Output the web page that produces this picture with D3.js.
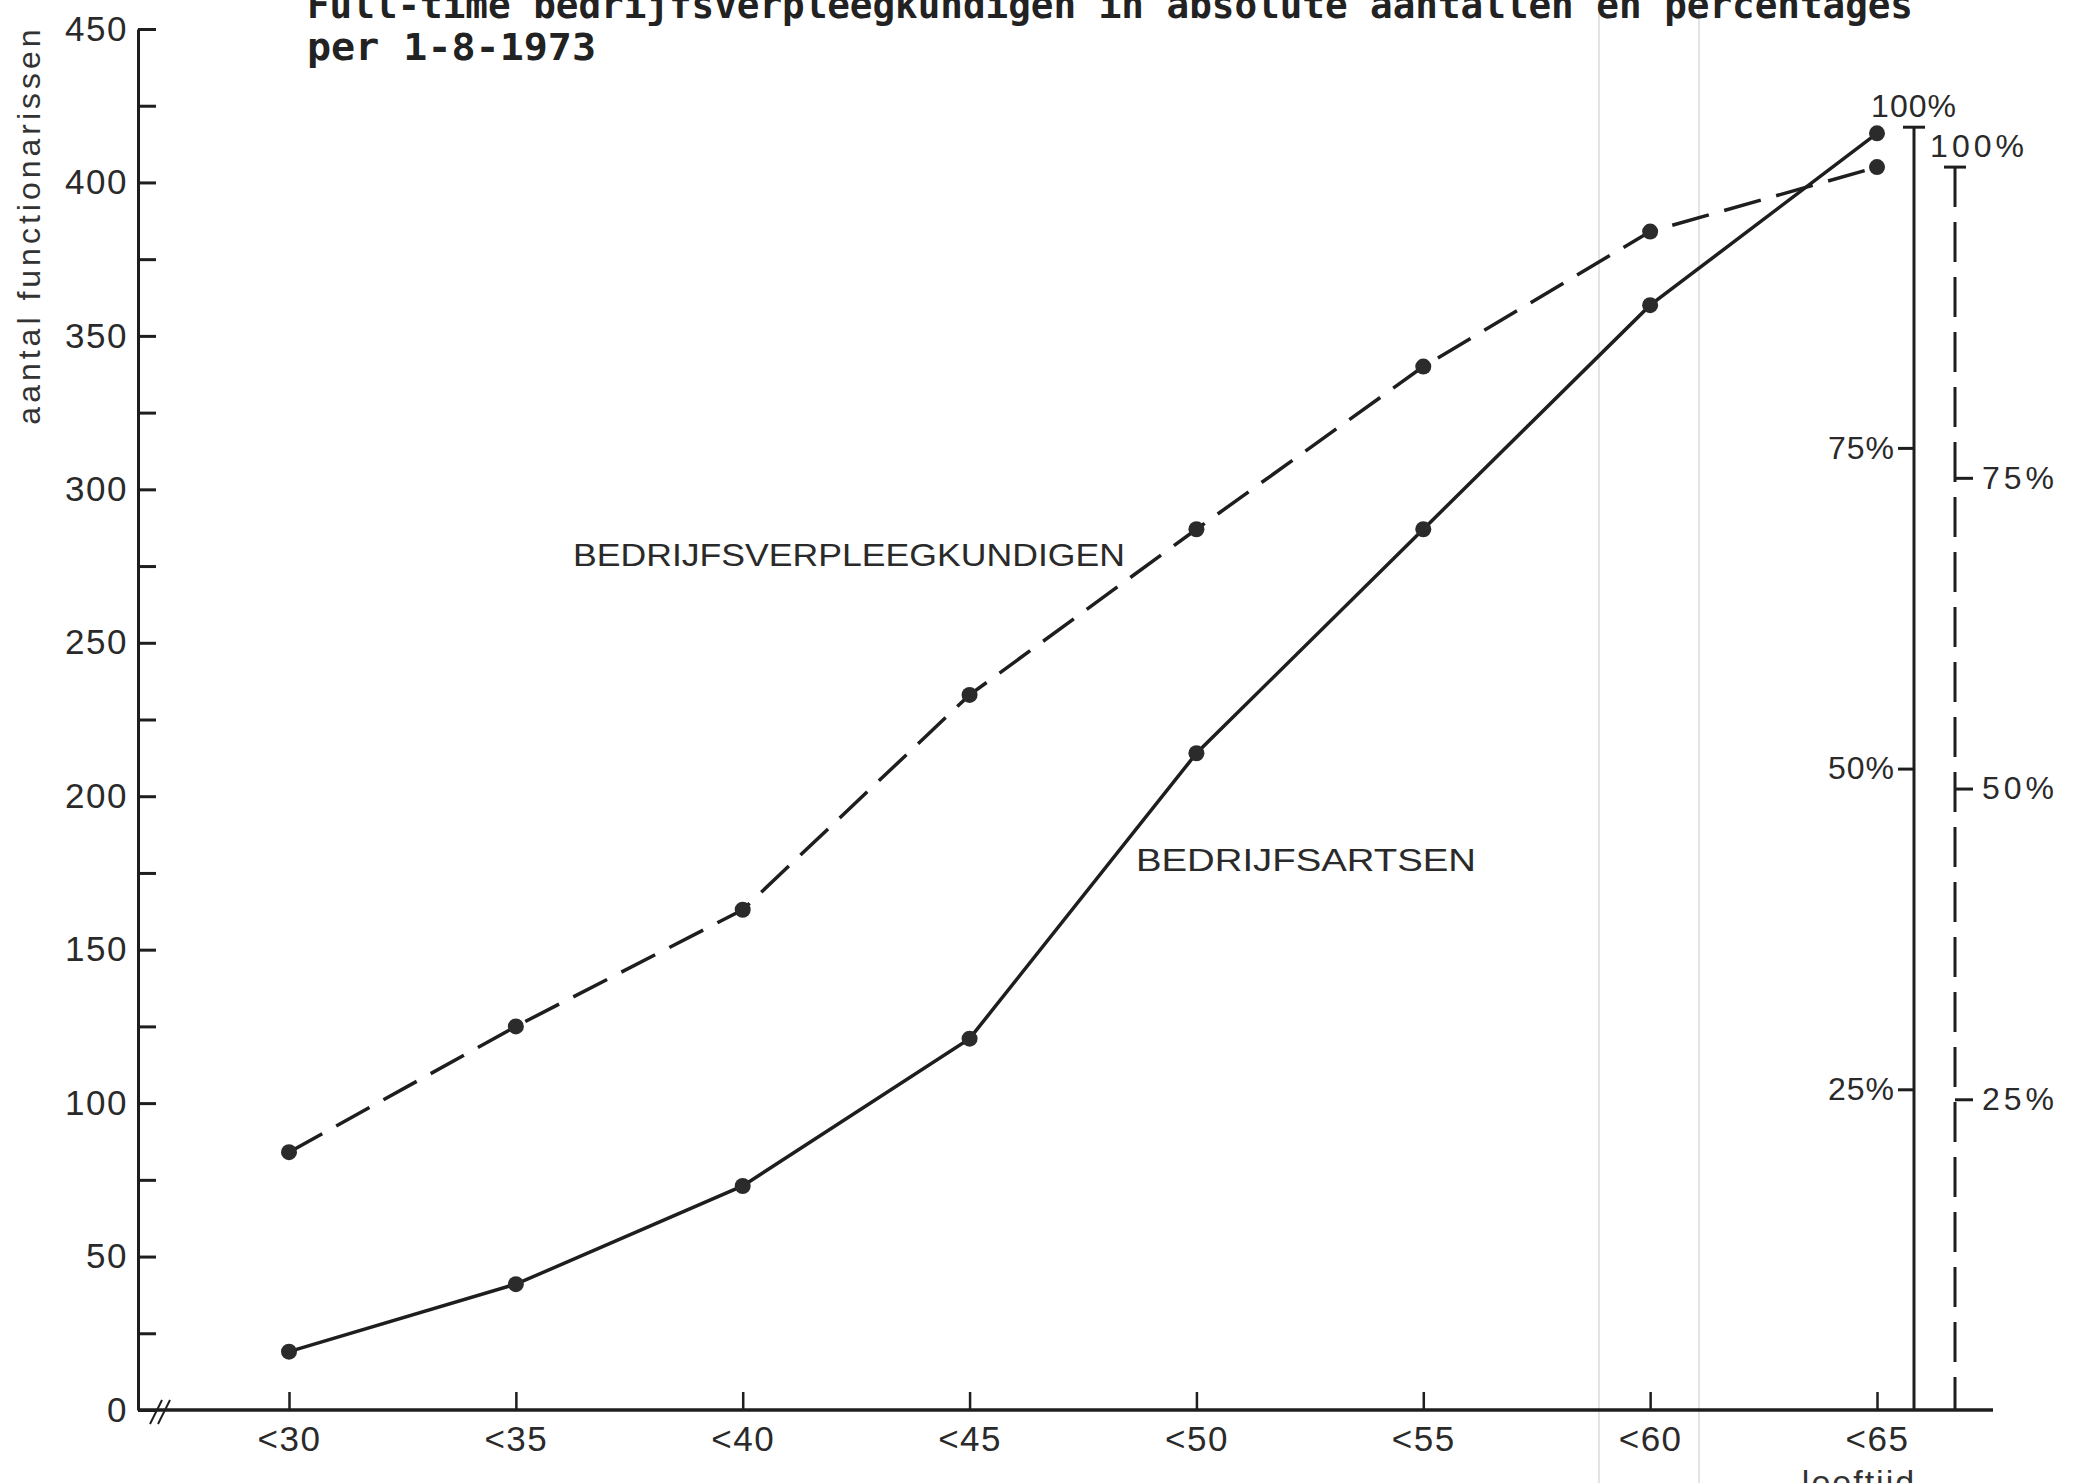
<!DOCTYPE html>
<html>
<head>
<meta charset="utf-8">
<script src="https://cdn.jsdelivr.net/npm/d3@7"></script>
<style>
  body { margin: 0; background: #fff; }
  svg { display: block; }
  .tick text { fill: #2a2a2a; }
</style>
</head>
<body>
<svg id="chart" width="2076" height="1483"></svg>
<script>
"use strict";

// leeftijdsklassen (cumulatief)
const categories = ["<30", "<35", "<40", "<45", "<50", "<55", "<60", "<65"];
// bedrijfsartsen, cumulatief aantal (doorgetrokken lijn)
const artsen = [19, 41, 73, 121, 214, 287, 360, 416];
// bedrijfsverpleegkundigen, cumulatief aantal (gestippelde lijn)
const verpleegkundigen = [84, 125, 163, 233, 287, 340, 384, 405];
// waarde die met 100% overeenkomt op de twee rechter assen
const totals = [418, 405];
const yTicks = [0, 50, 100, 150, 200, 250, 300, 350, 400, 450];
const pctTicks = [0.25, 0.5, 0.75];

const svg = d3.select("#chart");
const ink = "#1e1e1e";
const sans = "'Liberation Sans', Arial, sans-serif";

const x0 = 138, xEnd = 1993;
const x = d3.scalePoint().domain(categories).range([289, 1877]);
const y = d3.scaleLinear().domain([0, 450]).range([1410, 29]);

// vage vouwlijnen van de scan
svg.selectAll("line.fold")
    .data([1599, 1699])
  .enter().append("line")
    .attr("x1", d => d).attr("x2", d => d)
    .attr("y1", 0).attr("y2", 1483)
    .attr("stroke", "#e4e4e4").attr("stroke-width", 2);

// titel
const title = svg.append("g")
    .attr("font-family", "'DejaVu Sans Mono', monospace")
    .attr("font-weight", "bold")
    .attr("font-size", 37)
    .attr("fill", "#222");
title.append("text").attr("x", 307).attr("y", 18)
    .attr("textLength", 1606).attr("lengthAdjust", "spacingAndGlyphs")
    .text("Full-time  bedrijfsverpleegkundigen in absolute aantallen en percentages");
title.append("text").attr("x", 307).attr("y", 60)
    .attr("textLength", 289).attr("lengthAdjust", "spacingAndGlyphs")
    .text("per 1-8-1973");

// y-as
const yAxis = svg.append("g")
    .attr("transform", `translate(${x0},0)`)
    .call(d3.axisLeft(y).tickValues(yTicks).tickSizeInner(-18).tickSizeOuter(0).tickPadding(10))
    .attr("font-family", sans).attr("font-size", 35);
yAxis.select(".domain").attr("stroke", ink).attr("stroke-width", 3);
yAxis.selectAll(".tick line").attr("stroke", ink).attr("stroke-width", 3);
yAxis.selectAll(".tick text").attr("letter-spacing", 1.5);

svg.append("g")
    .attr("transform", `translate(${x0},0)`)
    .call(d3.axisRight(y).tickValues(d3.range(25, 450, 50)).tickSize(18).tickFormat(""))
    .call(g => g.select(".domain").remove())
    .selectAll(".tick line").attr("stroke", ink).attr("stroke-width", 3);

svg.append("text")
    .attr("transform", `translate(40,${(24 + 426) / 2}) rotate(-90)`)
    .attr("text-anchor", "middle")
    .attr("font-family", sans).attr("font-size", 32)
    .attr("letter-spacing", 4)
    .attr("fill", "#333")
    .text("aantal functionarissen");

// x-as
const xAxis = svg.append("g")
    .attr("transform", `translate(0,${y(0)})`)
    .call(d3.axisBottom(x).tickSizeInner(-18).tickSizeOuter(0).tickPadding(16))
    .attr("font-family", sans).attr("font-size", 35);
xAxis.select(".domain").remove();
xAxis.selectAll(".tick line").attr("stroke", ink).attr("stroke-width", 2.5);
xAxis.selectAll(".tick text").attr("letter-spacing", 1.5);
svg.append("line")
    .attr("x1", x0).attr("x2", xEnd)
    .attr("y1", y(0)).attr("y2", y(0))
    .attr("stroke", ink).attr("stroke-width", 3.5);

// asbreuk
svg.selectAll("line.brk")
    .data([0, 8])
  .enter().append("line")
    .attr("x1", d => 150 + d).attr("x2", d => 162 + d)
    .attr("y1", y(0) + 14).attr("y2", y(0) - 10)
    .attr("stroke", ink).attr("stroke-width", 2);

svg.append("text")
    .attr("x", x("<65") - 18).attr("y", 1494)
    .attr("text-anchor", "middle")
    .attr("font-family", sans).attr("font-size", 34)
    .attr("letter-spacing", 2).attr("fill", "#333")
    .text("leeftijd");

// percentage-assen
const pctAxes = [
  {xPos: 1914, total: totals[0], dash: null, side: "left"},
  {xPos: 1955, total: totals[1], dash: "40 15", side: "right"}
];
pctAxes.forEach(a => {
  const axisFn = a.side === "left" ? d3.axisLeft(y) : d3.axisRight(y);
  const g = svg.append("g")
      .attr("transform", `translate(${a.xPos},0)`)
      .call(axisFn.tickValues(pctTicks.map(p => p * a.total))
        .tickFormat(v => Math.round(v / a.total * 100) + "%")
        .tickSizeInner(a.side === "left" ? 16 : 18).tickSizeOuter(0)
        .tickPadding(a.side === "left" ? 3 : 9))
      .attr("font-family", sans).attr("font-size", 32);
  g.select(".domain").remove();
  g.selectAll(".tick line").attr("stroke", ink).attr("stroke-width", 3);
  g.selectAll(".tick text").attr("letter-spacing", a.side === "left" ? 1 : 4);

  svg.append("line")
      .attr("x1", a.xPos).attr("x2", a.xPos)
      .attr("y1", y(a.total)).attr("y2", y(0))
      .attr("stroke", ink).attr("stroke-width", 3)
      .attr("stroke-dasharray", a.dash);
  svg.append("line")
      .attr("x1", a.xPos - 11).attr("x2", a.xPos + 11)
      .attr("y1", y(a.total)).attr("y2", y(a.total))
      .attr("stroke", ink).attr("stroke-width", 3);
  svg.append("text")
      .attr("x", a.side === "left" ? a.xPos : a.xPos + 24)
      .attr("y", y(a.total) - 10)
      .attr("text-anchor", "middle")
      .attr("font-family", sans).attr("font-size", 32)
      .attr("letter-spacing", a.side === "left" ? 1 : 4)
      .attr("fill", "#2a2a2a")
      .text("100%");
});

// reeksen
const series = [
  {values: artsen, dash: null},
  {values: verpleegkundigen, dash: "38 16"}
];
const line = d3.line().x((d, i) => x(categories[i])).y(d => y(d));

series.forEach(s => {
  svg.append("path")
      .datum(s.values)
      .attr("d", line)
      .attr("fill", "none")
      .attr("stroke", ink)
      .attr("stroke-width", 3.5)
      .attr("stroke-dasharray", s.dash);
  svg.selectAll(null)
      .data(s.values)
    .enter().append("circle")
      .attr("cx", (d, i) => x(categories[i]))
      .attr("cy", d => y(d))
      .attr("r", 8)
      .attr("fill", "#2b2b2b");
});

// reekslabels
svg.append("text")
    .attr("x", 573).attr("y", 566)
    .attr("textLength", 552).attr("lengthAdjust", "spacingAndGlyphs")
    .attr("font-family", sans).attr("font-size", 32).attr("fill", "#2a2a2a")
    .text("BEDRIJFSVERPLEEGKUNDIGEN");
svg.append("text")
    .attr("x", 1136).attr("y", 871)
    .attr("textLength", 340).attr("lengthAdjust", "spacingAndGlyphs")
    .attr("font-family", sans).attr("font-size", 32).attr("fill", "#2a2a2a")
    .text("BEDRIJFSARTSEN");
</script>
</body>
</html>
